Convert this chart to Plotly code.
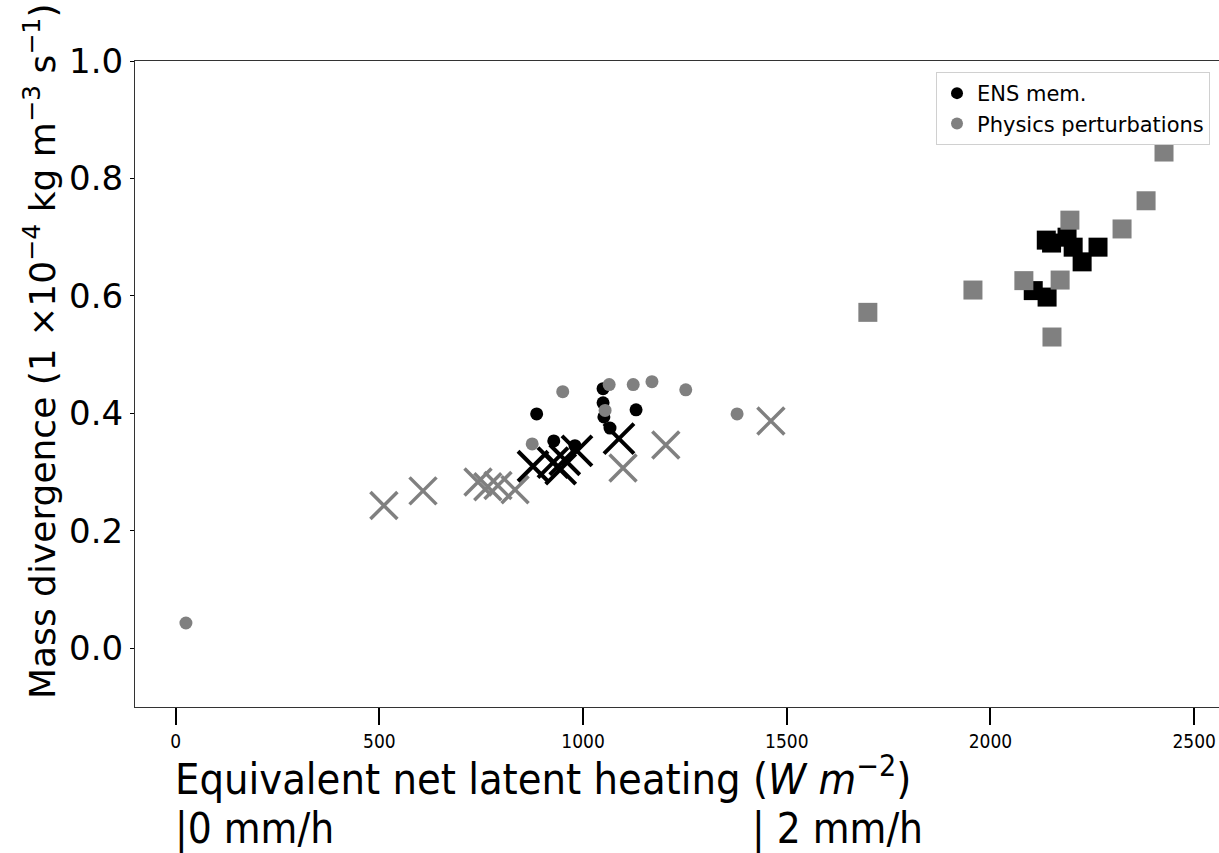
import plotly.graph_objects as go

# ---- data ----
ens_circle_x = [886, 928, 980, 1049, 1049, 1051, 1066, 1130]
ens_circle_y = [0.399, 0.353, 0.345, 0.442, 0.418, 0.394, 0.375, 0.406]

phys_circle_x = [25, 875, 950, 1054, 1064, 1123, 1169, 1252, 1378]
phys_circle_y = [0.043, 0.348, 0.437, 0.405, 0.449, 0.449, 0.454, 0.440, 0.399]

ens_x_x = [877, 926, 955, 985, 1088, 945]
ens_x_y = [0.310, 0.316, 0.321, 0.336, 0.357, 0.305]

phys_x_x = [511, 607, 742, 766, 791, 833, 1098, 1203, 1461]
phys_x_y = [0.243, 0.268, 0.283, 0.275, 0.277, 0.270, 0.307, 0.346, 0.387]

ens_sq_x = [2137, 2188, 2203, 2264, 2225, 2105, 2139, 2150]
ens_sq_y = [0.695, 0.700, 0.683, 0.683, 0.658, 0.609, 0.598, 0.690]

phys_sq_x = [2426, 2382, 2195, 2323, 2082, 2171, 1957, 1699, 2151]
phys_sq_y = [0.845, 0.762, 0.729, 0.714, 0.626, 0.627, 0.610, 0.572, 0.530]

x_ticks = [0, 500, 1000, 1500, 2000, 2500]
y_ticks = [0.0, 0.2, 0.4, 0.6, 0.8, 1.0]

BLACK = "#000000"
GRAY = "#808080"
NARROW = "Liberation Sans Narrow, DejaVu Sans Condensed, Arial Narrow, sans-serif"
DEJAVU = "DejaVu Sans, sans-serif"

fig = go.Figure()

fig.add_trace(go.Scatter(x=phys_x_x, y=phys_x_y, mode="markers", showlegend=False,
                         marker=dict(symbol="x-thin-open", size=27, color=GRAY,
                                     line=dict(color=GRAY, width=3.5))))
fig.add_trace(go.Scatter(x=ens_x_x, y=ens_x_y, mode="markers", showlegend=False,
                         marker=dict(symbol="x-thin-open", size=30, color=BLACK,
                                     line=dict(color=BLACK, width=4))))
fig.add_trace(go.Scatter(x=ens_sq_x, y=ens_sq_y, mode="markers", showlegend=False,
                         marker=dict(symbol="square", size=19, color=BLACK,
                                     line=dict(width=0))))
fig.add_trace(go.Scatter(x=phys_sq_x, y=phys_sq_y, mode="markers", showlegend=False,
                         marker=dict(symbol="square", size=19, color=GRAY,
                                     line=dict(width=0))))
fig.add_trace(go.Scatter(x=ens_circle_x, y=ens_circle_y, mode="markers",
                         name="ENS mem.",
                         marker=dict(symbol="circle", size=13, color=BLACK,
                                     line=dict(width=0))))
fig.add_trace(go.Scatter(x=phys_circle_x, y=phys_circle_y, mode="markers",
                         name="Physics perturbations",
                         marker=dict(symbol="circle", size=13, color=GRAY,
                                     line=dict(width=0))))

fig.update_layout(
    width=1219, height=853,
    margin=dict(l=135, r=0, t=61, b=146),
    paper_bgcolor="white", plot_bgcolor="white",
    showlegend=True,
    legend=dict(x=0.9917, y=0.983, xanchor="right", yanchor="top",
                bgcolor="white", bordercolor="#d0d0d0", borderwidth=1,
                font=dict(family=DEJAVU, size=21, color="#000000"),
                itemsizing="constant", tracegroupgap=0),
    xaxis=dict(range=[-100, 2561], tickvals=x_ticks,
               ticktext=[str(v) for v in x_ticks],
               showgrid=False, zeroline=False,
               showline=True, linecolor="#333333", linewidth=1, mirror=True,
               ticks="outside", ticklen=17, tickwidth=2, tickcolor="#000000",
               tickfont=dict(family=NARROW, size=19, color="#000000")),
    yaxis=dict(range=[-0.1, 1.0], tickvals=y_ticks,
               ticktext=[f"{v:.1f}" for v in y_ticks],
               showgrid=False, zeroline=False,
               showline=True, linecolor="#333333", linewidth=1, mirror=False,
               ticks="outside", ticklen=4, tickwidth=1, tickcolor="#000000",
               tickfont=dict(family=DEJAVU, size=34, color="#000000")),
)

fig.add_annotation(
    text="Equivalent net latent heating (<i>W m</i><sup>−2</sup>)",
    xref="paper", yref="paper", x=(173 - 135) / 1084, y=(707 - 776) / 646,
    xanchor="left", yanchor="middle", showarrow=False,
    font=dict(family=NARROW, size=43, color="#000000"))
fig.add_annotation(
    text="|0 mm/h",
    xref="paper", yref="paper", x=(173 - 135) / 1084, y=(707 - 828) / 646,
    xanchor="left", yanchor="middle", showarrow=False,
    font=dict(family=NARROW, size=42, color="#000000"))
fig.add_annotation(
    text="| 2 mm/h",
    xref="paper", yref="paper", x=(750 - 135) / 1084, y=(707 - 828) / 646,
    xanchor="left", yanchor="middle", showarrow=False,
    font=dict(family=NARROW, size=42, color="#000000"))
fig.add_annotation(
    text="Mass divergence (1 ×10<sup>−4</sup> kg m<sup>−3</sup> s<sup>−1</sup>)",
    xref="paper", yref="paper", x=(40 - 135) / 1084, y=(707 - 352) / 646,
    xanchor="center", yanchor="middle", textangle=-90, showarrow=False,
    font=dict(family=DEJAVU, size=36, color="#000000"))

fig.write_html("out.html", config={"displayModeBar": False},
               post_script="document.body.style.margin='0';")
